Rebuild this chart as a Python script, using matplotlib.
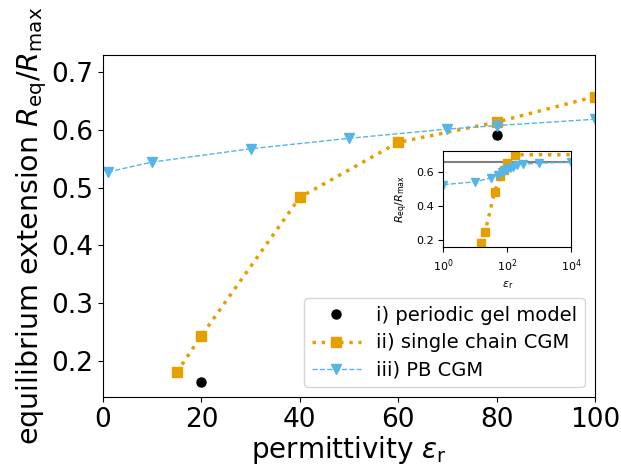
import matplotlib
matplotlib.use("Agg")
import matplotlib.pyplot as plt

# periodic gel model
gel_eps = [20, 80]
gel_R = [0.164, 0.591]

# single chain CGM
sc_eps = [15, 20, 40, 60, 80, 100]
sc_R = [0.181, 0.244, 0.483, 0.578, 0.613, 0.657]
sc_eps_ext = [175, 100000]
sc_R_ext = [0.705, 0.705]

# PB CGM
pb_eps = [1, 10, 30, 50, 70, 80, 100]
pb_R = [0.527, 0.544, 0.567, 0.585, 0.601, 0.607, 0.618]
pb_eps_ext = [120, 150, 200, 300, 1000, 10000]
pb_R_ext = [0.625, 0.633, 0.642, 0.648, 0.655, 0.66]

ref_line = 0.663

orange = "#E69F00"
blue = "#56B4E9"

fig = plt.figure(figsize=(6.21, 4.66), dpi=100)
ax = fig.add_axes([0.166, 0.148, 0.792, 0.734])

ax.plot(gel_eps, gel_R, 'o', color='black', ms=6.5, ls='none', label='i) periodic gel model')
ax.plot(sc_eps, sc_R, ls=':', marker='s', color=orange, ms=7, lw=2.5, label='ii) single chain CGM')
ax.plot(pb_eps, pb_R, ls='--', marker='v', color=blue, ms=7, lw=1, label='iii) PB CGM')

ax.set_xlim(0, 100)
ax.set_ylim(0.138, 0.729)
ax.set_xticks([0, 20, 40, 60, 80, 100])
ax.set_yticks([0.2, 0.3, 0.4, 0.5, 0.6, 0.7])
ax.tick_params(labelsize=19)
ax.set_xlabel(r'permittivity $\varepsilon_\mathrm{r}$', fontsize=20, labelpad=1)
ax.set_ylabel(r'equilibrium extension $R_\mathrm{eq}/R_\mathrm{max}$', fontsize=20.5, labelpad=2)
ax.legend(loc='lower right', fontsize=14, labelspacing=0.42, handlelength=2.5)

ins = fig.add_axes([0.714, 0.469, 0.206, 0.207])
ins.axhline(ref_line, color='gray', lw=1.5)
ins.plot(sc_eps + sc_eps_ext, sc_R + sc_R_ext, ls=':', marker='s', color=orange, ms=6, lw=2.5)
ins.plot(pb_eps + pb_eps_ext, pb_R + pb_R_ext, ls='--', marker='v', color=blue, ms=6, lw=1)
ins.set_xscale('log')
ins.set_xlim(1, 1e4)
ins.set_ylim(0.154, 0.727)
ins.set_xticks([1, 100, 10000])
ins.set_yticks([0.2, 0.4, 0.6])
ins.minorticks_off()
ins.tick_params(labelsize=8)
ins.set_xlabel(r'$\varepsilon_\mathrm{r}$', fontsize=8)
ins.set_ylabel(r'$R_\mathrm{eq}/R_\mathrm{max}$', fontsize=8)

fig.savefig('out.png', dpi=100)
